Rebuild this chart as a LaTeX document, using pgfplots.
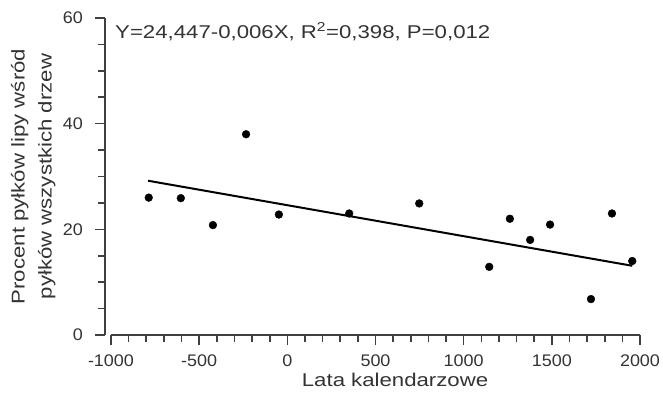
\documentclass[border=0pt]{standalone}
\usepackage{pgfplots}
\pgfplotsset{compat=1.18}
\usepackage{fontspec}
\setmainfont{Liberation Sans}
\newfontfamily\widefont{Liberation Sans}[FakeStretch=1.2]
\newfontfamily\tickfont{Liberation Sans}[FakeStretch=1.07]
\definecolor{axgray}{gray}{0.25}
\definecolor{txtgray}{gray}{0.2}
\begin{document}
\begin{tikzpicture}
\path[use as bounding box] (-111pt,-63pt) rectangle (552pt,335pt);
\begin{axis}[
  at={(0,0)}, anchor=south west,
  scale only axis, width=529pt, height=317pt,
  xmin=-1000, xmax=2000, ymin=0, ymax=60,
  axis x line=bottom, axis y line=left,
  axis line style={draw=none},
  xtick={-1000,-500,0,500,1000,1500,2000},
  xticklabels={-1000,-500,0,500,1000,1500,2000},
  ytick={0,20,40,60},
  yticklabels={0,20,40,60},
  major tick length=0pt, minor tick length=0pt,
  tick style={draw=none},
  ticklabel style={font=\tickfont\fontsize{16.8}{18}\selectfont, text=txtgray, inner sep=0pt},
  xticklabel style={anchor=north, yshift=-20pt},
  yticklabel style={anchor=east, xshift=-28pt},
  xlabel={Lata kalendarzowe},
  ylabel={Procent pyłków lipy wśród\\pyłków wszystkich drzew},
  label style={font=\widefont\fontsize{18.5}{27}\selectfont, text=txtgray},
  xlabel style={at={(axis description cs:0.537,-0.142)}, anchor=center},
  ylabel style={at={(axis description cs:-0.147,0.5)}, anchor=center, align=center},
  clip=false,
]
% axis lines and ticks (Prism style, y axis offset to the left)
\draw[axgray, line width=1.6pt] (axis cs:-1000,0) -- (axis cs:2000,0);
\draw[axgray, line width=1.6pt] ([xshift=-6pt]axis cs:-1000,0) -- ([xshift=-6pt]axis cs:-1000,60);
\pgfplotsinvokeforeach{-1000,-500,...,2000}{
  \draw[axgray, line width=1.6pt] (axis cs:#1,0) -- ++(0pt,-10pt);}
\pgfplotsinvokeforeach{-900,-800,-700,-600,-400,-300,-200,-100,100,200,300,400,600,700,800,900,1100,1200,1300,1400,1600,1700,1800,1900}{
  \draw[axgray, line width=1.6pt] (axis cs:#1,0) -- ++(0pt,-7pt);}
\pgfplotsinvokeforeach{0,20,40,60}{
  \draw[axgray, line width=1.6pt] ([xshift=-6pt]axis cs:-1000,#1) -- ++(-10pt,0pt);}
\pgfplotsinvokeforeach{5,10,15,25,30,35,45,50,55}{
  \draw[axgray, line width=1.6pt] ([xshift=-6pt]axis cs:-1000,#1) -- ++(-7pt,0pt);}
\addplot[only marks, mark=*, mark size=3.9pt, black] coordinates {
  (-786,26.0) (-604,25.9) (-422,20.8) (-234,38.0) (-48,22.8) (351,23.0) (748,24.9)
  (1145,12.9) (1262,22.0) (1377,18.0) (1490,20.9) (1722,6.8) (1841,23.0) (1956,14.0)
};
\addplot[black, line width=2pt] coordinates {(-790,29.2) (1956,13.1)};
\node[anchor=base west, inner sep=0pt, font=\widefont\fontsize{18.5}{20}\selectfont, text=txtgray]
  at (axis cs:-1000,60) [xshift=4pt, yshift=-20pt] {Y=24,447-0,006X, R\textsuperscript{2}=0,398, P=0,012};
\end{axis}
\end{tikzpicture}
\end{document}
